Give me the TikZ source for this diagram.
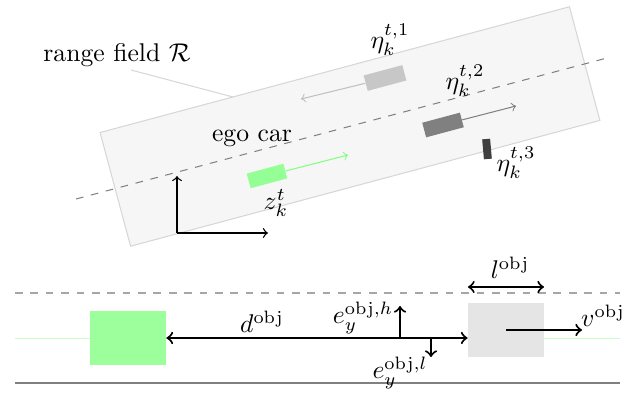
\documentclass[tikz,border=0pt]{standalone}
\usepackage{amsmath}
\begin{document}
\begin{tikzpicture}[x=0.39pt,y=-0.39pt,
  field/.style={draw=black!16,fill=black!3.5,rotate=15,inner sep=0pt,minimum width=189.5pt,minimum height=45.9pt},
  carbox/.style={inner sep=0pt,rotate=15,minimum width=15.2pt,minimum height=6pt},
  lbl/.style={inner sep=1pt},
  axis/.style={->,line width=0.5pt},
  meas/.style={line width=0.8pt},
  >=to]
\useasboundingbox (0,0) rectangle (636,396);
% ---------- top part ----------
\node[field] (rf) at (350,126.5) {};
\draw[black!50,dashed,line width=0.4pt] (76,199) -- (607,58);
\node[lbl] (rflab) at (117,55) {range field $\mathcal{R}$};
\coordinate (rfpt) at (233,97);
\draw[black!16,line width=0.4pt] (131,70) -- (rfpt);
% ego car
\node[carbox,fill=green!42!white,minimum width=14.8pt,minimum height=5.9pt] (ego) at (267,176) {};
\coordinate (egotip) at (348,155);
\draw[->,green!50!white,line width=0.4pt] (ego.east) -- (egotip);
\node[lbl] (egolab) at (252,138) {ego car};
\node[lbl] (zlab) at (276,203) {$z_k^t$};
% axes
\coordinate (O) at (177,233);
\coordinate (Oy) at (177,176);
\coordinate (Ox) at (268,233);
\draw[axis] (O) -- (Oy);
\draw[axis] (O) -- (Ox);
% object 1
\node[carbox,fill=black!22,minimum width=15.6pt,minimum height=6.2pt] (o1) at (385,78) {};
\coordinate (o1tip) at (301,99);
\draw[->,black!25,line width=0.4pt] (o1.west) -- (o1tip);
\node[lbl] (l1) at (390,40) {$\eta_k^{t,1}$};
% object 2
\node[carbox,fill=black!50,minimum width=15.2pt,minimum height=5.9pt] (o2) at (443,125) {};
\coordinate (o2tip) at (516,106);
\draw[->,black!50,line width=0.4pt] (o2.east) -- (o2tip);
\node[lbl] (l2) at (465,81) {$\eta_k^{t,2}$};
% object 3
\node[inner sep=0pt,rotate=5,fill=black!75,minimum width=3.1pt,minimum height=7.8pt] (o3) at (487,149) {};
\node[lbl] (l3) at (516,163) {$\eta_k^{t,3}$};
% ---------- bottom part ----------
\coordinate (dl) at (15,293);
\coordinate (dr) at (620,293);
\draw[black!35,dashed,line width=0.5pt] (dl) -- (dr);
\coordinate (sl) at (15,383);
\coordinate (sr) at (620,383);
\draw[black!50,line width=0.5pt] (sl) -- (sr);
\coordinate (gl) at (15,338);
\coordinate (gr) at (620,338);
\draw[green!22!white,line width=0.35pt] (gl) -- (gr);
\node[inner sep=0pt,fill=green!40!white,opacity=0.97,minimum width=29.6pt,minimum height=21.1pt] (gb) at (128,338) {};
\node[inner sep=0pt,fill=black!10,minimum width=29.6pt,minimum height=21.1pt] (ob) at (506,330) {};
\draw[meas,<->] (gb.east) -- (ob.west |- gb.east);
\node[lbl] (dlab) at (262,322) {$d^{\mathrm{obj}}$};
% v
\coordinate (ve) at (582,330);
\draw[meas,->] (ob.center) -- (ve);
\node[lbl] (vlab) at (603,316) {$v^{\mathrm{obj}}$};
% l
\coordinate (ll) at (468,287);
\coordinate (lr) at (544,287);
\draw[meas,<->] (ll) -- (lr);
\node[lbl] (llab) at (510,268) {$l^{\mathrm{obj}}$};
% e_y
\coordinate (eh0) at (400,338);
\coordinate (eh1) at (400,306);
\draw[meas,->] (eh0) -- (eh1);
\node[lbl] (ehlab) at (363,318) {$e_y^{\mathrm{obj},h}$};
\coordinate (el0) at (431,338);
\coordinate (el1) at (431,357);
\draw[meas,->] (el0) -- (el1);
\node[lbl] (ellab) at (400,373) {$e_y^{\mathrm{obj},l}$};
\end{tikzpicture}
\end{document}
